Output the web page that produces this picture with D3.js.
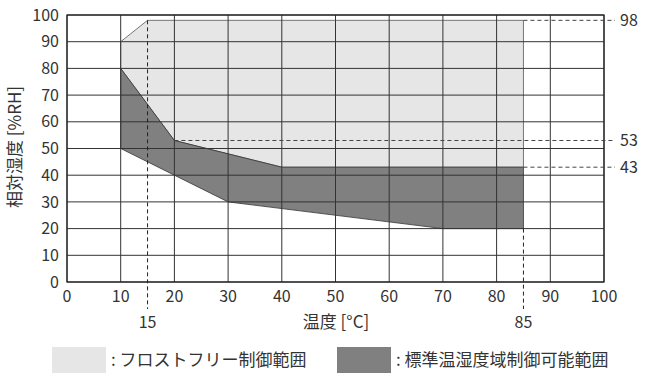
<!DOCTYPE html>
<html><head><meta charset="utf-8">
<script src="https://cdn.jsdelivr.net/npm/d3@7/dist/d3.min.js"></script>
<style>body{margin:0;background:#fff}svg text{font-family:"Noto Sans CJK JP","Noto Sans",sans-serif}</style>
</head><body><svg id="c" width="650" height="381"></svg>
<script>
const xTicks = [0,10,20,30,40,50,60,70,80,90,100];
const yTicks = [0,10,20,30,40,50,60,70,80,90,100];
// フロストフリー制御範囲 polygon
const frostT = [10,15,85,85,40,30,20,10];
const frostH = [90,98,98,43,43,48,53,80];
// 標準温湿度域制御可能範囲 polygon
const stdT = [10,20,30,40,85,85,70,30,20,10];
const stdH = [80,53,48,43,43,20,20,30,40,50];
const refT = [15,85];
const refH = [98,53,43];
const refHStart = [85,20,85];
const legendLabels = [": フロストフリー制御範囲", ": 標準温湿度域制御可能範囲"];
const legendColors = ["#e6e6e6","#808080"];

const svg = d3.select("#c");
const x = d3.scaleLinear().domain([0,100]).range([67,604]);
const y = d3.scaleLinear().domain([0,100]).range([282,15]);

const line = d3.line().x(d=>x(d[0])).y(d=>y(d[1]));
const frost = frostT.map((t,i)=>[t,frostH[i]]);
const std = stdT.map((t,i)=>[t,stdH[i]]);
svg.append("path").attr("d",line(frost)+"Z").attr("fill","#e6e6e6").attr("stroke","#555").attr("stroke-width",0.8);
svg.append("path").attr("d",line(std)+"Z").attr("fill","#808080").attr("stroke","#333").attr("stroke-width",0.8);

// grid
svg.append("g").selectAll("line").data(xTicks).join("line")
  .attr("x1",d=>x(d)).attr("x2",d=>x(d)).attr("y1",y(0)).attr("y2",y(100))
  .attr("stroke","#333").attr("stroke-width",1);
svg.append("g").selectAll("line").data(yTicks).join("line")
  .attr("y1",d=>y(d)).attr("y2",d=>y(d)).attr("x1",x(0)).attr("x2",x(100))
  .attr("stroke","#333").attr("stroke-width",1);
svg.append("rect").attr("x",x(0)).attr("y",y(100)).attr("width",x(100)-x(0)).attr("height",y(0)-y(100))
  .attr("fill","none").attr("stroke","#222").attr("stroke-width",1.2);

// dashed refs
const dash = "4,3";
svg.append("line").attr("x1",x(15)).attr("x2",x(15)).attr("y1",y(98)).attr("y2",309)
  .attr("stroke","#222").attr("stroke-dasharray",dash);
svg.append("line").attr("x1",x(85)).attr("x2",x(85)).attr("y1",y(20)).attr("y2",309)
  .attr("stroke","#222").attr("stroke-dasharray",dash);
refH.forEach((h,i)=>{
  svg.append("line").attr("x1",x(refHStart[i])).attr("x2",615).attr("y1",y(h)).attr("y2",y(h))
    .attr("stroke","#444").attr("stroke-dasharray",dash);
  svg.append("text").attr("x",620).attr("y",y(h)).attr("dy","0.35em").attr("font-size",16).attr("fill","#333").text(h);
});
refT.forEach(t=>{
  svg.append("text").attr("x",x(t)).attr("y",322).attr("dy","0.35em").attr("text-anchor","middle")
    .attr("font-size",16).attr("fill","#333").text(t);
});

// tick labels
svg.append("g").selectAll("text").data(xTicks).join("text")
  .attr("x",d=>x(d)).attr("y",296).attr("dy","0.35em").attr("text-anchor","middle")
  .attr("font-size",16).attr("fill","#333").text(d=>d);
svg.append("g").selectAll("text").data(yTicks).join("text")
  .attr("x",59).attr("y",d=>y(d)).attr("dy","0.35em").attr("text-anchor","end")
  .attr("font-size",16).attr("fill","#333").text(d=>d);

// axis titles
svg.append("text").attr("x",336).attr("y",322).attr("dy","0.35em").attr("text-anchor","middle")
  .attr("font-size",17).attr("fill","#333").text("温度 [°C]");
svg.append("text").attr("transform","translate(15,147) rotate(-90)").attr("dy","0.35em").attr("text-anchor","middle")
  .attr("font-size",17).attr("fill","#333").text("相対湿度 [%RH]");

// legend
const lx = [52,337];
legendLabels.forEach((l,i)=>{
  svg.append("rect").attr("x",lx[i]).attr("y",347).attr("width",54).attr("height",26).attr("fill",legendColors[i]);
  svg.append("text").attr("x",lx[i]+59).attr("y",360).attr("dy","0.35em").attr("font-size",17).attr("fill","#333").text(l);
});
</script></body></html>
